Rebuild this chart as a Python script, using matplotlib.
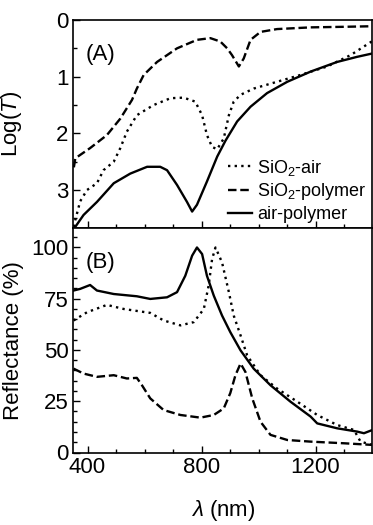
import matplotlib
matplotlib.use("Agg")
import matplotlib.pyplot as plt
from matplotlib.ticker import MultipleLocator

plt.rcParams['font.family'] = ['Liberation Sans', 'DejaVu Sans']
plt.rcParams['mathtext.fontset'] = 'custom'
plt.rcParams['mathtext.it'] = 'Liberation Sans:italic'
plt.rcParams['mathtext.rm'] = 'Liberation Sans'

# Panel A: Log(T) (axis inverted)
a_sio2air_x = [352, 357, 374, 398, 433, 456, 492, 515, 538, 573, 632, 691, 737, 778, 802, 819, 837, 855,
               878, 896, 913, 937, 983, 1065, 1147, 1241, 1323, 1400]
a_sio2air_y = [3.65, 3.53, 3.20, 3.00, 2.88, 2.65, 2.50, 2.26, 1.97, 1.68, 1.50, 1.38, 1.37, 1.44, 1.68, 2.03, 2.24, 2.28,
               2.09, 1.68, 1.44, 1.32, 1.21, 1.09, 0.97, 0.82, 0.62, 0.37]

a_sio2poly_x = [352, 357, 409, 468, 515, 556, 573, 597, 644, 714, 784, 831, 866, 890, 907, 931, 948, 972,
                1007, 1065, 1183, 1300, 1400]
a_sio2poly_y = [2.60, 2.44, 2.26, 2.03, 1.74, 1.41, 1.21, 0.97, 0.74, 0.50, 0.35, 0.32, 0.38, 0.50, 0.62, 0.82, 0.68, 0.35,
                0.21, 0.16, 0.13, 0.12, 0.11]

a_airpoly_x = [352, 357, 386, 433, 492, 550, 609, 655, 679, 714, 749, 767, 784, 819, 855, 884, 925, 972,
               1030, 1101, 1183, 1276, 1346, 1400]
a_airpoly_y = [3.67, 3.65, 3.44, 3.21, 2.88, 2.71, 2.59, 2.59, 2.65, 2.91, 3.21, 3.38, 3.26, 2.85, 2.41, 2.13, 1.79, 1.53,
               1.29, 1.09, 0.91, 0.74, 0.65, 0.59]

# Panel B: Reflectance (%)
b_sio2air_x = [351, 398, 468, 527, 585, 620, 667, 726, 773, 808, 825, 837, 849, 872, 896, 913, 937, 960,
               1007, 1065, 1136, 1206, 1276, 1335, 1358, 1400]
b_sio2air_y = [64.4, 68.4, 72.0, 70.0, 68.8, 68.1, 64.4, 62.0, 63.6, 70.0, 81.4, 94.3, 100.0, 92.7, 78.2, 66.8, 57.1, 47.4,
               37.7, 31.2, 24.8, 18.3, 13.4, 11.0, 5.3, 3.7]

b_sio2poly_x = [351, 386, 433, 492, 538, 573, 591, 620, 667, 726, 796, 843, 878, 901, 919, 937, 954, 978,
                1007, 1042, 1101, 1183, 1300, 1400]
b_sio2poly_y = [40.9, 38.5, 36.9, 37.7, 36.1, 36.4, 32.8, 26.4, 20.7, 18.3, 17.0, 18.3, 21.5, 29.0, 37.7, 43.4, 39.3, 26.4,
                15.0, 8.6, 6.1, 5.3, 4.5, 3.7]

b_airpoly_x = [351, 374, 409, 433, 492, 573, 620, 679, 714, 743, 767, 784, 802, 819, 843, 872, 901, 937,
               983, 1042, 1112, 1183, 1206, 1276, 1346, 1370, 1400]
b_airpoly_y = [79.0, 79.8, 81.7, 79.0, 77.3, 76.2, 74.9, 75.7, 78.2, 86.2, 96.0, 100.0, 96.8, 86.2, 76.5, 66.8, 58.7, 49.8,
               40.9, 32.8, 24.8, 17.5, 14.2, 11.8, 10.2, 9.4, 11.0]

labels = ['SiO$_2$-air', 'SiO$_2$-polymer', 'air-polymer']

W, H = 373, 525
fig = plt.figure(figsize=(W / 100, H / 100), dpi=100)
left = 73.3 / W
right = 372.5 / W
axA = fig.add_axes([left, 1 - 228 / H, right - left, (228 - 20) / H])
axB = fig.add_axes([left, 1 - 452.5 / H, right - left, (452.5 - 228) / H])

lw = 1.7
dot = (0, (1.0, 1.8))
dash = (0, (3.6, 1.6))

axA.plot(a_sio2air_x, a_sio2air_y, color='black', lw=lw, linestyle=dot, label=labels[0])
axA.plot(a_sio2poly_x, a_sio2poly_y, color='black', lw=lw, linestyle=dash, label=labels[1])
axA.plot(a_airpoly_x, a_airpoly_y, color='black', lw=lw, linestyle='-', label=labels[2])

axB.plot(b_sio2air_x, b_sio2air_y, color='black', lw=lw, linestyle=dot)
axB.plot(b_sio2poly_x, b_sio2poly_y, color='black', lw=lw, linestyle=dash)
axB.plot(b_airpoly_x, b_airpoly_y, color='black', lw=lw, linestyle='-')

fs = 16
for ax in (axA, axB):
    ax.set_xlim(350, 1400)
    ax.xaxis.set_major_locator(MultipleLocator(400))
    ax.xaxis.set_minor_locator(MultipleLocator(100))
    ax.tick_params(which='both', direction='in', labelsize=fs, width=1)
    ax.tick_params(which='major', length=5)
    ax.tick_params(which='minor', length=3)
    for s in ax.spines.values():
        s.set_linewidth(1.2)

axA.set_ylim(3.67, 0)
axA.yaxis.set_major_locator(MultipleLocator(1))
axA.yaxis.set_minor_locator(MultipleLocator(0.5))
axA.tick_params(axis='x', labelbottom=False)
axA.set_ylabel('Log($\\mathit{T}$)', fontsize=fs)

axB.set_ylim(0, 109.5)
axB.set_yticks([0, 25, 50, 75, 100])
axB.yaxis.set_minor_locator(MultipleLocator(5))
axB.set_ylabel('Reflectance (%)', fontsize=fs)
axB.set_xlabel('$\\mathit{\\lambda}$ (nm)', fontsize=fs, labelpad=14)

axA.yaxis.set_label_coords(-0.165, 0.5)
axB.yaxis.set_label_coords(-0.165, 0.5)

axA.text(0.04, 0.81, '(A)', transform=axA.transAxes, fontsize=fs)
axB.text(0.04, 0.82, '(B)', transform=axB.transAxes, fontsize=fs)

axA.legend(loc='lower right', frameon=False, fontsize=13, handlelength=1.3,
           handletextpad=0.3, labelspacing=0.2, borderaxespad=0.0,
           bbox_to_anchor=(1.005, -0.01))

fig.savefig('out.png', dpi=100)
